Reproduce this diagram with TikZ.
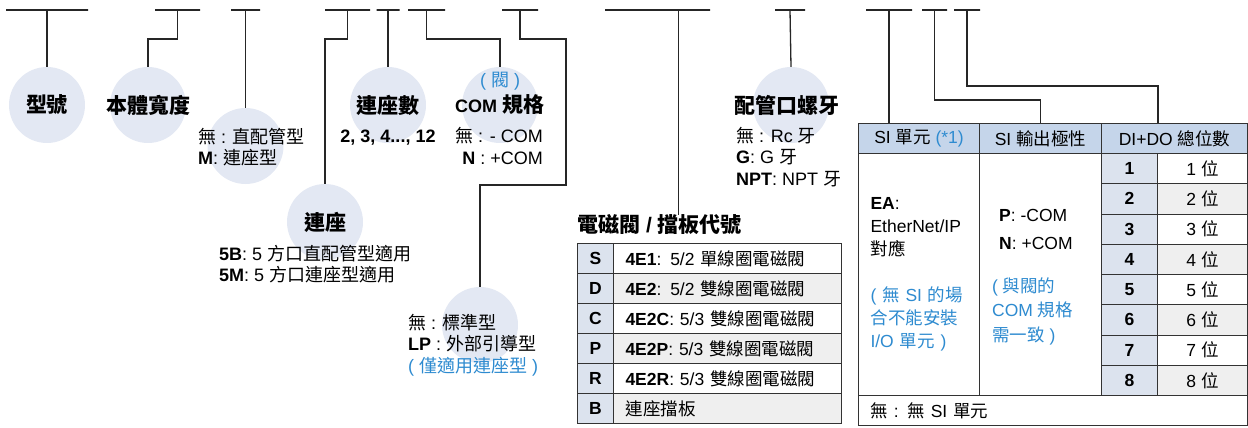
\documentclass[tikz,border=0pt]{standalone}
\usepackage{xcolor}
\usepackage{fontspec}
\setmainfont{Liberation Sans}
\newfontfamily\cjk{Noto Sans CJK TC}
\newcommand{\zh}[1]{{\cjk #1}}
\usepackage{tikz}
\usetikzlibrary{positioning, calc}
\definecolor{linegray}{HTML}{262626}
\definecolor{tabline}{HTML}{333333}
\definecolor{circfill}{HTML}{E3E8F3}
\definecolor{headfill}{HTML}{C5D5EA}
\definecolor{keyfill}{HTML}{DCE3EE}
\definecolor{rowgray}{HTML}{EFEFEF}
\definecolor{noteblue}{HTML}{2E8BD0}

\begin{document}
\begin{tikzpicture}[x=1pt, y=-1pt,
  bar/.style={draw=linegray, line width=1.3pt, inner sep=0pt, minimum height=0pt},
  conn/.style={draw=linegray, line width=1.3pt},
  dot/.style={circle, fill=circfill, minimum size=76pt, inner sep=0pt},
  head/.style={font=\fontsize{21}{24}\selectfont\bfseries},
  desc/.style={font=\fontsize{18}{21.5}\selectfont, align=left, inner sep=0pt, anchor=west},
  cell/.style={draw=tabline, line width=1pt, inner sep=0pt, anchor=north west,
               minimum height=30pt, font=\fontsize{17.5}{21}\selectfont},
]
  \useasboundingbox (0,0) rectangle (1248,428);

  % code position bars
  \node[bar, minimum width=82pt] (p1)  at (47,10)    {};
  \node[bar, minimum width=45pt] (p2)  at (177.5,10) {};
  \node[bar, minimum width=29pt] (p3)  at (245.5,10) {};
  \node[bar, minimum width=45pt] (p4)  at (347.5,10) {};
  \node[bar, minimum width=23pt] (p5)  at (388,10)   {};
  \node[bar, minimum width=37pt] (p6)  at (426.5,10) {};
  \node[bar, minimum width=36pt] (p7)  at (520,10)   {};
  \node[bar, minimum width=105pt] (p8) at (657.5,10) {};
  \node[bar, minimum width=30pt] (p9)  at (790,10)   {};
  \node[bar, minimum width=46pt] (p10) at (889,10)   {};
  \node[bar, minimum width=25pt] (p11) at (934.5,10) {};
  \node[bar, minimum width=26pt] (p12) at (967,10)   {};

  % circles
  \node[dot] (c1) at (47,105)    {};
  \node[dot] (c2) at (148,105)   {};
  \node[dot] (c3) at (245.5,146) {};
  \node[dot] (c4) at (388,105)   {};
  \node[dot] (c5) at (500,105)   {};
  \node[dot] (c6) at (791,105)   {};
  \node[dot] (c7) at (325,222)   {};
  \node[dot] (c8) at (480,325)   {};

  % headings and descriptions
  \node[head] (t1) at (c1) {\zh{型號}};
  \node[head] (t2) at (c2) {\zh{本體寬度}};
  \node[desc] (d3) at (198,147) {\zh{無} : \zh{直配管型}\\\textbf{M}: \zh{連座型}};
  \node[head] (t4) at (c4) {\zh{連座數}};
  \node[desc, anchor=center, font=\fontsize{18}{21.5}\selectfont\bfseries] (d4) at (388,138) {2, 3, 4..., 12};
  \node[font=\fontsize{18}{21}\selectfont, text=noteblue] (t5a) at (500,81) {( \zh{閥} )};
  \node[head] (t5) at (c5) {{\fontsize{18}{21}\selectfont COM} \zh{規格}};
  \node[desc, anchor=east, align=right] (d5) at (543,146) {\zh{無} : - COM\\\textbf{N} : +COM};
  \node[head] (t6) at (787,105) {\zh{配管口螺牙}};
  \node[desc] (d6) at (736,157) {\zh{無} : Rc \zh{牙}\\\textbf{G}: G \zh{牙}\\\textbf{NPT}: NPT \zh{牙}};
  \node[head] (t7) at (c7) {\zh{連座}};
  \node[desc] (d7) at (219,264) {\textbf{5B}: 5 \zh{方口直配管型適用}\\\textbf{5M}: 5 \zh{方口連座型適用}};
  \node[desc] (d8) at (408,345) {\zh{無} : \zh{標準型}\\\textbf{LP} : \zh{外部引導型}\\\textcolor{noteblue}{( \zh{僅適用連座型} )}};

  % valve / blanking plate table
  \node[head, anchor=west, inner sep=0pt] (t8) at (577,225) {\zh{電磁閥} / \zh{擋板代號}};
  \foreach \k/\f/\t [count=\i] in {
      S/white/{\textbf{4E1}: 5/2 \zh{單線圈電磁閥}},
      D/rowgray/{\textbf{4E2}: 5/2 \zh{雙線圈電磁閥}},
      C/white/{\textbf{4E2C}: 5/3 \zh{雙線圈電磁閥}},
      P/rowgray/{\textbf{4E2P}: 5/3 \zh{雙線圈電磁閥}},
      R/white/{\textbf{4E2R}: 5/3 \zh{雙線圈電磁閥}},
      B/rowgray/{\zh{連座擋板}}} {
    \node[cell, fill=keyfill, minimum width=36pt, font=\fontsize{17.5}{21}\selectfont\bfseries]
      (k\i) at (577,{243+30*(\i-1)}) {\k};
    \node[cell, fill=\f, minimum width=228pt, text width=204pt, inner xsep=12pt, align=left]
      (s\i) at (613,{243+30*(\i-1)}) {\t};
  }

  % SI table
  \node[cell, fill=headfill, minimum width=121pt] (h1) at (858,123) {SI \zh{單元} \textcolor{noteblue}{(*1)}};
  \node[cell, fill=headfill, minimum width=122pt] (h2) at (979,123) {SI \zh{輸出極性}};
  \node[cell, fill=headfill, minimum width=146pt] (h3) at (1101,123) {DI+DO \zh{總位數}};
  \node[cell, fill=white, minimum width=121pt, minimum height=242pt, text width=97pt,
        inner xsep=12pt, align=left, font=\fontsize{17.5}{23}\selectfont] (b1) at (858,153)
    {\textbf{EA}:\\EtherNet/IP\\\zh{對應}\\[23pt]\textcolor{noteblue}{( \zh{無} SI \zh{的場}}\\
     \textcolor{noteblue}{\zh{合不能安裝}}\\\textcolor{noteblue}{I/O \zh{單元} )}};
  \node[cell, fill=white, minimum width=122pt, minimum height=242pt] (b2) at (979,153) {};
  \node[desc, font=\fontsize{17.5}{28}\selectfont] (pn) at (999,229) {\textbf{P}: -COM\\\textbf{N}: +COM};
  \node[desc, font=\fontsize{17.5}{24.5}\selectfont, text=noteblue] (pnote) at (992,311)
    {( \zh{與閥的}\\COM \zh{規格}\\\zh{需一致} )};
  \foreach \i/\f in {1/white,2/rowgray,3/white,4/rowgray,5/white,6/rowgray,7/white,8/rowgray} {
    \node[cell, fill=keyfill, minimum width=56pt, minimum height=30.25pt,
          font=\fontsize{17.5}{21}\selectfont\bfseries] (n\i) at (1101,{153+30.25*(\i-1)}) {\i};
    \node[cell, fill=\f, minimum width=90pt, minimum height=30.25pt] (v\i) at (1157,{153+30.25*(\i-1)}) {\i\ \zh{位}};
  }
  \node[cell, fill=white, minimum width=389pt, text width=365pt, inner xsep=12pt, align=left]
    (f) at (858,395) {\zh{無} : \zh{無} SI \zh{單元}};

  % connectors
  \draw[conn] (p1.center) -- (c1.north);
  \draw[conn] (p2.center) -- ++(0,29) -| (c2.north);
  \draw[conn] (p3.center) -- (c3.north);
  \draw[conn] (p4.center) -- ++(0,29) -| (c7.north);
  \draw[conn] (p5.center) -- (c4.north);
  \draw[conn] (p6.center) -- ++(0,29) -| (c5.north);
  \draw[conn] (p7.center) -- ++(0,29) -- ++(46,0) -- ++(0,146) -| (c8.north);
  \draw[conn] ([xshift=21pt]p8.center) -- ([xshift=21pt]p8.center |- t8.north);
  \draw[conn] (p9.center) -- (c6.north);
  \draw[conn] (p10.center) -- (p10.center |- h1.north);
  \draw[conn] (p11.center) -- ++(0,90) -| (h2.north);
  \draw[conn] (p12.center) -- ++(0,76) -| (h3.north -| n1.north east);
\end{tikzpicture}
\end{document}
